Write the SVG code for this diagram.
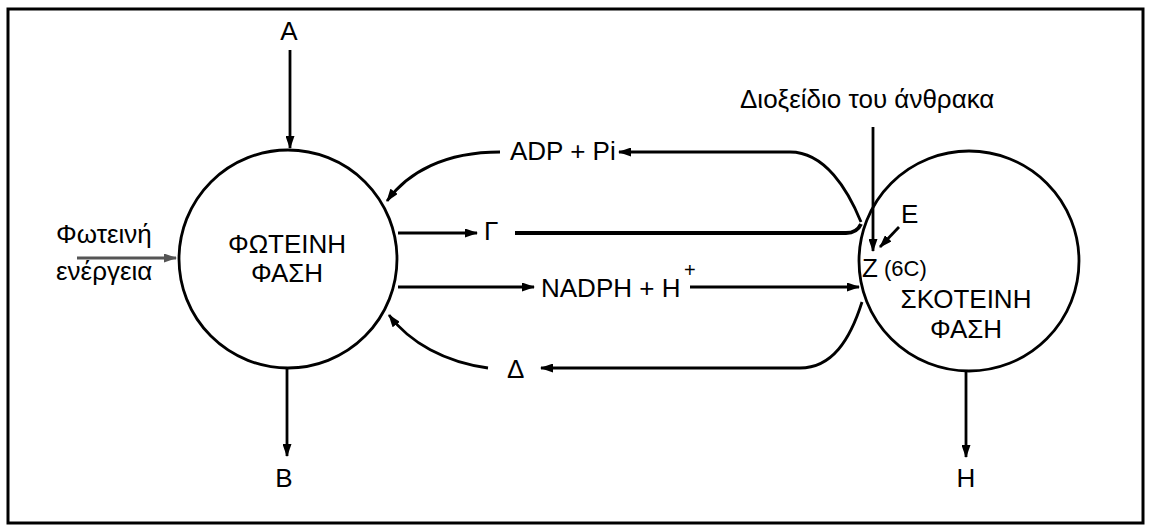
<svg xmlns="http://www.w3.org/2000/svg" width="1151" height="531" viewBox="0 0 1151 531">
<style>
.t{font-family:"Liberation Sans",Arial,sans-serif;font-size:26px;fill:#000}
.c{fill:none;stroke:#000;stroke-width:2.8}
.l{fill:none;stroke:#000;stroke-width:2.8}
.g{fill:none;stroke:#555;stroke-width:2.8}
</style>
<defs>
<marker id="ah" markerWidth="13" markerHeight="9" refX="12" refY="4.5" orient="auto" markerUnits="userSpaceOnUse">
<path d="M0,0 L13,4.5 L0,9 Z" fill="#000"/>
</marker>
<marker id="ahg" markerWidth="13" markerHeight="9" refX="12" refY="4.5" orient="auto" markerUnits="userSpaceOnUse">
<path d="M0,0 L13,4.5 L0,9 Z" fill="#555"/>
</marker>
</defs>
<rect x="8" y="9" width="1135" height="514" fill="#fff" stroke="#000" stroke-width="3"/>
<g id="light-phase">
<circle class="c" cx="288" cy="259" r="109"/>
<text class="t" x="287" y="253" text-anchor="middle">ΦΩΤΕΙΝΗ</text>
<text class="t" x="287" y="282" text-anchor="middle">ΦΑΣΗ</text>
</g>
<g id="dark-phase">
<circle class="c" cx="969" cy="261" r="110"/>
<text class="t" x="966" y="308" text-anchor="middle">ΣΚΟΤΕΙΝΗ</text>
<text class="t" x="966" y="338" text-anchor="middle">ΦΑΣΗ</text>
</g>
<g id="labels">
<text class="t" x="289" y="40" text-anchor="middle">A</text>
<text class="t" x="284" y="487" text-anchor="middle">B</text>
<text class="t" x="966" y="487" text-anchor="middle">H</text>
<text class="t" x="56" y="243">Φωτεινή</text>
<text class="t" x="56" y="280">ενέργεια</text>
<text class="t" x="510" y="160">ADP + Pi</text>
<text class="t" x="484" y="240">Γ</text>
<text class="t" x="541" y="297">NADPH + H</text>
<text class="t" x="684" y="277" style="font-size:20px">+</text>
<text class="t" x="507" y="378">Δ</text>
<text class="t" x="740" y="108">Διοξείδιο του άνθρακα</text>
<text class="t" x="901" y="223">E</text>
<text class="t" x="862" y="277">Z</text>
<text class="t" x="884" y="276" style="font-size:22px">(6C)</text>
</g>
<g id="connectors">
<path class="l" d="M290,50 L290,148" marker-end="url(#ah)"/>
<path class="l" d="M287,368 L287,456" marker-end="url(#ah)"/>
<path class="l" d="M966,371 L966,457" marker-end="url(#ah)"/>
<path class="g" d="M77,258 L176,258" marker-end="url(#ahg)"/>
<path class="l" d="M861,222 C848,190 825,152 790,152 L619,152" marker-end="url(#ah)"/>
<path class="l" d="M500,152 C445,152 408,172 387,201" marker-end="url(#ah)"/>
<path class="l" d="M398,233 L477,233" marker-end="url(#ah)"/>
<path class="l" d="M515,233 L846,233 Q857,233 861,224" style="stroke-width:3.8"/>
<path class="l" d="M398,287 L534,287" marker-end="url(#ah)"/>
<path class="l" d="M690,287 L859,287" marker-end="url(#ah)"/>
<path class="l" d="M862,302 C850,340 832,368 800,368 L541,368" marker-end="url(#ah)"/>
<path class="l" d="M488,368 C445,362 410,343 389,315" marker-end="url(#ah)"/>
<path class="l" d="M873,127 L873,251" marker-end="url(#ah)"/>
<path class="l" d="M899,227 L880,247" marker-end="url(#ah)"/>
</g>
</svg>
